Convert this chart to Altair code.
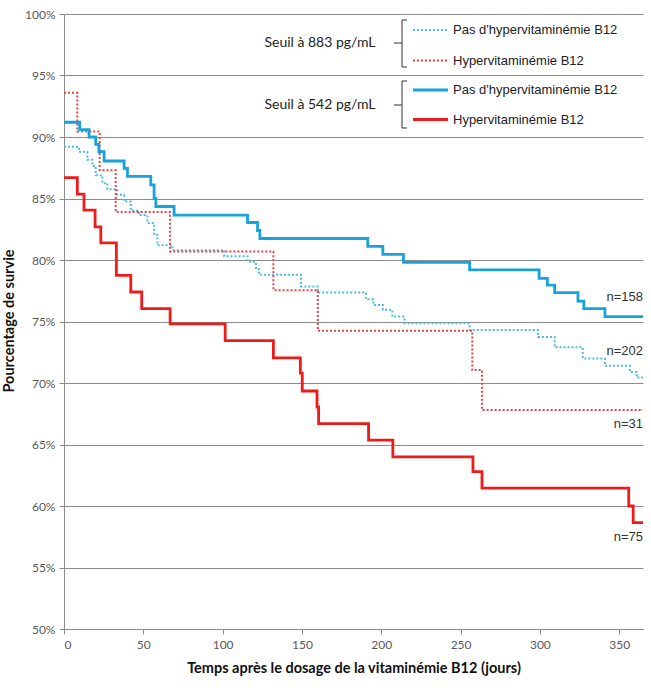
import altair as alt
import pandas as pd

# ---------------- data ----------------
series_names = ["883_no", "883_yes", "542_no", "542_yes"]
series_colors = ["#4cbce6", "#e34545", "#17a2dc", "#ee1b1b"]

days_883_no = [0, 9.5, 14.7, 17.9, 20, 24.2, 27.3, 33.6, 37.9, 42.1, 47.3, 52.6, 56.8, 58.9,
               68.4, 101, 115.7, 121, 123, 149.4, 160, 190.4, 195, 201, 207, 214.6, 255.7,
               298.8, 309.3, 327, 341, 356.7, 361, 365]
pct_883_no = [89.2, 88.8, 88.15, 87.65, 86.9, 86.25, 85.75, 85.3, 84.75, 84.0, 83.65, 83.0, 82.05, 81.2,
              80.8, 80.3, 79.85, 79.25, 78.8, 77.85, 77.35, 76.8, 76.35, 75.95, 75.4, 74.85, 74.3,
              73.75, 72.9, 72.0, 71.4, 70.9, 70.45, 70.45]

days_883_yes = [0, 8.4, 22.5, 32.6, 66.8, 132, 160, 257.4, 263.5, 365]
pct_883_yes = [93.6, 90.45, 87.3, 83.9, 80.7, 77.55, 74.25, 71.05, 67.8, 67.8]

days_542_no = [0, 9.9, 15.8, 20, 22, 25.3, 37.9, 40, 54.7, 56.8, 57.9, 69.4, 115.7, 122, 123.5,
               191.5, 201, 214, 255.7, 299.5, 304.7, 309.3, 324, 327.7, 341, 365]
pct_542_no = [91.2, 90.6, 90.0, 89.4, 88.8, 88.05, 87.45, 86.8, 86.1, 85.0, 84.35, 83.65, 83.05, 82.4, 81.75,
              81.1, 80.45, 79.8, 79.2, 78.5, 77.95, 77.35, 76.65, 76.05, 75.4, 75.4]

days_542_yes = [0, 8.4, 12.6, 19.6, 23.2, 33, 42.1, 49, 66.9, 101.6, 132, 149, 150.2, 159.5, 160.5,
                192, 207.3, 257.8, 263.5, 356, 358.8, 365]
pct_542_yes = [86.7, 85.35, 84.05, 82.7, 81.4, 78.75, 77.4, 76.05, 74.8, 73.45, 72.05, 70.8, 69.35, 68.05, 66.7,
               65.35, 64.0, 62.8, 61.45, 60.0, 58.65, 58.65]

n_labels = ["n=158", "n=202", "n=31", "n=75"]
n_label_day = [365, 365, 365, 365]
n_label_pct = [77.0, 72.6, 66.7, 57.5]

x_ticks = [0, 50, 100, 150, 200, 250, 300, 350]
y_ticks = [50, 55, 60, 65, 70, 75, 80, 85, 90, 95, 100]

legend_groups = ["Seuil à 883  pg/mL", "Seuil à 542  pg/mL"]
legend_entries = ["Pas d'hypervitaminémie B12", "Hypervitaminémie B12",
                  "Pas d'hypervitaminémie B12", "Hypervitaminémie B12"]

# ---------------- tables ----------------
rows = []
for name, d, v in [("883_no", days_883_no, pct_883_no), ("883_yes", days_883_yes, pct_883_yes),
                   ("542_no", days_542_no, pct_542_no), ("542_yes", days_542_yes, pct_542_yes)]:
    for a, b in zip(d, v):
        rows.append({"serie": name, "jour": a, "survie": b})
df = pd.DataFrame(rows)
df_n = pd.DataFrame({"label": n_labels, "jour": n_label_day, "survie": n_label_pct})

W, H = 579, 615
FONT = "Lato"

x_enc = alt.X("jour:Q",
              scale=alt.Scale(domain=[0, 365], nice=False, zero=False),
              axis=alt.Axis(values=x_ticks, title="Temps après le dosage de la vitaminémie B12 (jours)",
                            grid=False, domainColor="#8c8c8c", tickColor="#8c8c8c", tickSize=5,
                            labelFont=FONT, labelFontSize=12, labelColor="#595959", labelPadding=5,
                            titleFont=FONT, titleFontSize=14.5, titleFontWeight="bold", titleColor="#111111",
                            titlePadding=11))
y_enc = alt.Y("survie:Q",
              scale=alt.Scale(domain=[50, 100], nice=False, zero=False),
              axis=alt.Axis(values=y_ticks, labelExpr="datum.value + '%'",
                            title="Pourcentage de survie",
                            grid=True, gridColor="#8c8c8c", gridWidth=1,
                            domainColor="#8c8c8c", tickColor="#8c8c8c", tickSize=5,
                            labelFont=FONT, labelFontSize=12, labelColor="#595959", labelPadding=4,
                            titleFont=FONT, titleFontSize=14.5, titleFontWeight="bold", titleColor="#111111",
                            titleX=-55, titleY=H / 2 - 1, titleAngle=-90, titleBaseline="middle",
                            titleAlign="center"))
color_enc = alt.Color("serie:N", scale=alt.Scale(domain=series_names, range=series_colors), legend=None)

dotted = alt.Chart(df).transform_filter(
    alt.FieldOneOfPredicate(field="serie", oneOf=["883_no", "883_yes"])
).mark_line(interpolate="step-after", strokeDash=[2, 2], strokeWidth=2).encode(
    x=x_enc, y=y_enc, color=color_enc, detail="serie:N")

solid = alt.Chart(df).transform_filter(
    alt.FieldOneOfPredicate(field="serie", oneOf=["542_no", "542_yes"])
).mark_line(interpolate="step-after", strokeWidth=2.8).encode(
    x="jour:Q", y="survie:Q", color=color_enc, detail="serie:N")

n_text = alt.Chart(df_n).mark_text(align="right", baseline="middle", font="Liberation Sans",
                                   fontSize=13, color="#333333").encode(
    x="jour:Q", y="survie:Q", text="label:N")

# ---------------- manual legend (pixel positions inside the plot) ----------------
layers = [dotted, solid, n_text]
one = pd.DataFrame({"k": [0]})
sample_y = [16, 46.5, 76, 105.5]
for i, (name, col) in enumerate(zip(series_names, series_colors)):
    dash = [2, 2] if i < 2 else [1, 0]
    sw = 2 if i < 2 else 2.8
    layers.append(alt.Chart(one).mark_rule(color=col, strokeDash=dash, strokeWidth=sw).encode(
        x=alt.value(349), x2=alt.value(384), y=alt.value(sample_y[i])))
    layers.append(alt.Chart(one).mark_text(align="left", baseline="middle", font="Liberation Sans",
                                           fontSize=13, color="#222222").encode(
        x=alt.value(389), y=alt.value(sample_y[i]), text=alt.value(legend_entries[i])))

group_y = [29, 91]
bracket_top = [6, 67]
bracket_bot = [53, 114]
for g in range(2):
    layers.append(alt.Chart(one).mark_text(align="center", baseline="middle", font=FONT,
                                           fontSize=14, color="#222222").encode(
        x=alt.value(256), y=alt.value(group_y[g]), text=alt.value(legend_groups[g])))
    layers.append(alt.Chart(one).mark_rule(color="#333333", strokeWidth=1).encode(
        x=alt.value(338), y=alt.value(bracket_top[g]), y2=alt.value(bracket_bot[g])))
    for yy in (bracket_top[g], bracket_bot[g]):
        layers.append(alt.Chart(one).mark_rule(color="#333333", strokeWidth=1).encode(
            x=alt.value(338), x2=alt.value(343), y=alt.value(yy)))
    layers.append(alt.Chart(one).mark_rule(color="#333333", strokeWidth=1).encode(
        x=alt.value(330), x2=alt.value(338), y=alt.value(group_y[g])))

chart = alt.layer(*layers).properties(
    width=W, height=H,
    autosize=alt.AutoSizeParams(type="none"),
    padding={"left": 64, "top": 14, "right": 8, "bottom": 70},
    background="white",
).configure_view(stroke=None)

chart.save("out.html", embed_options={"renderer": "svg", "actions": False})
